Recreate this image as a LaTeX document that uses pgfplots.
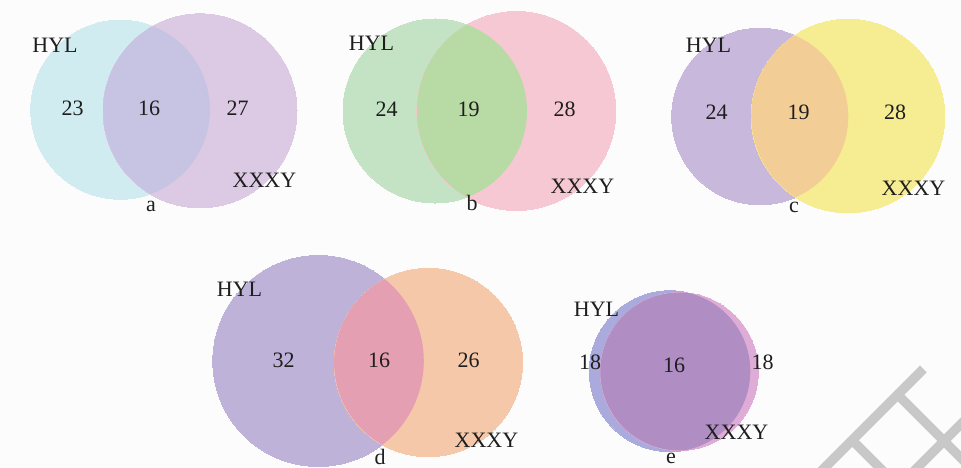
\documentclass[border=0pt]{standalone}
\usepackage{fontspec}
\setmainfont{Liberation Serif}
\usepackage{pgfplots}
\pgfplotsset{compat=1.18}
\definecolor{bgc}{RGB}{252,252,252}
\definecolor{aL}{HTML}{D0ECF0}\definecolor{aO}{HTML}{C6C4E2}\definecolor{aR}{HTML}{DCC9E3}
\definecolor{bL}{HTML}{C4E2C4}\definecolor{bO}{HTML}{B8DAA5}\definecolor{bR}{HTML}{F6C8D4}
\definecolor{cL}{HTML}{C8B8DC}\definecolor{cO}{HTML}{F2CE96}\definecolor{cR}{HTML}{F6EC92}
\definecolor{dL}{HTML}{BEB2D8}\definecolor{dO}{HTML}{E4A0B2}\definecolor{dR}{HTML}{F6C8AA}
\definecolor{eL}{HTML}{AAAADC}\definecolor{eO}{HTML}{B08EC4}\definecolor{eR}{HTML}{DEACD6}
\definecolor{wm}{RGB}{200,200,200}
\definecolor{txt}{RGB}{30,30,30}
\tikzset{lab/.style={font=\fontsize{22}{26}\selectfont, text=txt, inner sep=0pt}}
% circle (x, y, r) in pixel units, y from top
\newcommand{\venn}[9]{%
  % #1 xL, #2 yL, #3 rL, #4 xR, #5 yR, #6 rR, #7 colL, #8 colO, #9 colR
  \addplot[color=#7, only marks, mark=*, mark size=#3pt, mark options={fill=#7, draw=#7, line width=0pt}] coordinates {(#1,#2)};
  \addplot[color=#9, only marks, mark=*, mark size=#6pt, mark options={fill=#9, draw=#9, line width=0pt}] coordinates {(#4,#5)};
  \begin{scope}
    \clip (axis cs:#4,#5) circle [radius=#6];
    \fill[#8] (axis cs:#1,#2) circle [radius=#3];
  \end{scope}
}
\begin{document}
\begin{tikzpicture}
\begin{axis}[
  x=1pt, y=1pt, y dir=reverse,
  xmin=0, xmax=961, ymin=0, ymax=468,
  scale only axis, hide axis, clip=true, clip marker paths=true,
]
\fill[bgc] (rel axis cs:0,0) rectangle (rel axis cs:1,1);
% panel a
\venn{120.3}{109.7}{89.6}{200}{110.8}{97}{aL}{aO}{aR}
% panel b
\venn{435}{111}{92}{516.3}{111}{99.5}{bL}{bO}{bR}
% panel c
\venn{760}{116.5}{88.3}{848}{116}{96.8}{cL}{cO}{cR}
% panel d
\venn{318.3}{361}{105.5}{428.3}{362.5}{94.2}{dL}{dO}{dR}
% panel e
\venn{669.8}{371.2}{80.5}{679.3}{371.5}{79}{eL}{eO}{eR}
% watermark
\addplot[wm, line width=9.5pt, line cap=butt] coordinates {(923.3,369) (818,474.3)};
\addplot[wm, line width=9.5pt, line cap=butt] coordinates {(897.7,394.7) (975,472)};
\addplot[wm, line width=9.5pt, line cap=butt] coordinates {(911,474) (970,415)};
\addplot[wm, line width=9.5pt, line cap=butt] coordinates {(852,440) (886,474)};
% labels a
\node[lab] at (axis cs:55,45) {HYL};
\node[lab] at (axis cs:72.5,108.5) {23};
\node[lab] at (axis cs:149,108.5) {16};
\node[lab] at (axis cs:237.5,108.5) {27};
\node[lab] at (axis cs:264.5,180) {XXXY};
\node[lab] at (axis cs:151,206) {a};
% labels b
\node[lab] at (axis cs:371.5,43.5) {HYL};
\node[lab] at (axis cs:386.5,109.5) {24};
\node[lab] at (axis cs:468.5,109.5) {19};
\node[lab] at (axis cs:564.5,109.5) {28};
\node[lab] at (axis cs:582.5,186.5) {XXXY};
\node[lab] at (axis cs:472,202.5) {b};
% labels c
\node[lab] at (axis cs:708.5,45) {HYL};
\node[lab] at (axis cs:716.5,112.5) {24};
\node[lab] at (axis cs:798.5,112.5) {19};
\node[lab] at (axis cs:895,112.5) {28};
\node[lab] at (axis cs:913.5,188) {XXXY};
\node[lab] at (axis cs:794,207) {c};
% labels d
\node[lab] at (axis cs:239.5,289.5) {HYL};
\node[lab] at (axis cs:283.5,360.5) {32};
\node[lab] at (axis cs:379,360.5) {16};
\node[lab] at (axis cs:468.5,360.5) {26};
\node[lab] at (axis cs:486.5,440.5) {XXXY};
\node[lab] at (axis cs:380,457) {d};
% labels e
\node[lab] at (axis cs:596.5,309.5) {HYL};
\node[lab] at (axis cs:590,362.5) {18};
\node[lab] at (axis cs:674,365.5) {16};
\node[lab] at (axis cs:762.5,362.5) {18};
\node[lab] at (axis cs:736.5,432.5) {XXXY};
\node[lab] at (axis cs:671,458.5) {e};
\end{axis}
\end{tikzpicture}
\end{document}
